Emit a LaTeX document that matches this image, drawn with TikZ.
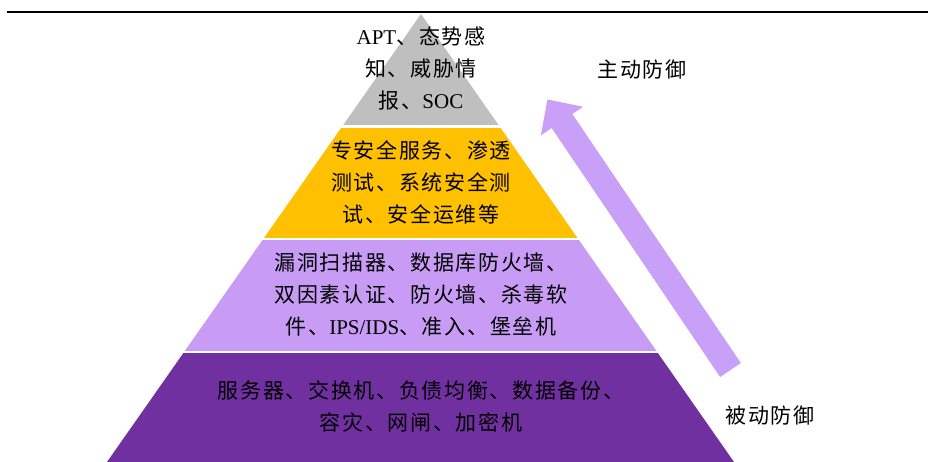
\documentclass[tikz,border=0pt]{standalone}
\usepackage{fontspec}
\setmainfont{Liberation Serif}
\newfontfamily\cjk[LetterSpace=8]{Noto Sans CJK SC}
\newcommand{\lat}[1]{{\rmfamily #1}}
\usetikzlibrary{calc}
\definecolor{layergray}{RGB}{191,191,191}
\definecolor{layeryellow}{RGB}{255,192,0}
\definecolor{layerlilac}{RGB}{200,155,245}
\definecolor{layerpurple}{RGB}{112,48,160}
\definecolor{arrowlilac}{RGB}{200,160,248}
\tikzset{
  txt/.style={align=center, inner sep=0pt, text=black, font={\cjk\fontsize{21}{32}\selectfont}},
  lbl/.style={inner sep=0pt, text=black, font={\cjk\fontsize{21}{26}\selectfont}},
}
\begin{document}
\begin{tikzpicture}[x=1pt,y=-1pt]
\useasboundingbox (0,0) rectangle (928,462);
\fill[white] (0,0) rectangle (928,462);
% top rule
\coordinate (rl) at (7,12);
\coordinate (rr) at (928,12);
\draw[line width=2.6pt] (rl) -- (rr);
% pyramid
\coordinate (apex) at (421,14);
\coordinate (bl) at (107,462);
\coordinate (br) at (734,462);
\begin{scope}
\clip (apex) -- (br) -- (bl) -- cycle;
\fill[layergray] (90,0) rectangle (760,125.5);
\fill[layeryellow] (90,128.2) rectangle (760,237.8);
\fill[layerlilac] (90,240.5) rectangle (760,350.5);
\fill[layerpurple] (90,353.2) rectangle (760,462);
\end{scope}
% texts
\node[txt] (t1) at (421,69) {\lat{APT}、态势感\\知、威胁情\\报、\lat{SOC}};
\node[txt] (t2) at (421,182.5) {专安全服务、渗透\\测试、系统安全测\\试、安全运维等};
\node[txt] (t3) at (421,295) {漏洞扫描器、数据库防火墙、\\双因素认证、防火墙、杀毒软\\件、\lat{IPS/IDS}、准入、堡垒机};
\node[txt] (t4) at (421,406) {服务器、交换机、负债均衡、数据备份、\\容灾、网闸、加密机};
% arrow
\coordinate (T) at (730.5,370);
\coordinate (P) at (547.4,99.5);
\coordinate (B) at ($(P)!26pt!(T)$);
\fill[arrowlilac]
  ($(T)!12.5pt!90:(P)$) -- ($(B)!12.5pt!-90:(T)$) -- ($(B)!25.5pt!-90:(T)$) -- (P)
  -- ($(B)!25.5pt!90:(T)$) -- ($(B)!12.5pt!90:(T)$) -- ($(T)!12.5pt!-90:(P)$) -- cycle;
\node[lbl] (active) at (642,70) {主动防御};
\node[lbl] (passive) at (770,416) {被动防御};
\end{tikzpicture}
\end{document}
